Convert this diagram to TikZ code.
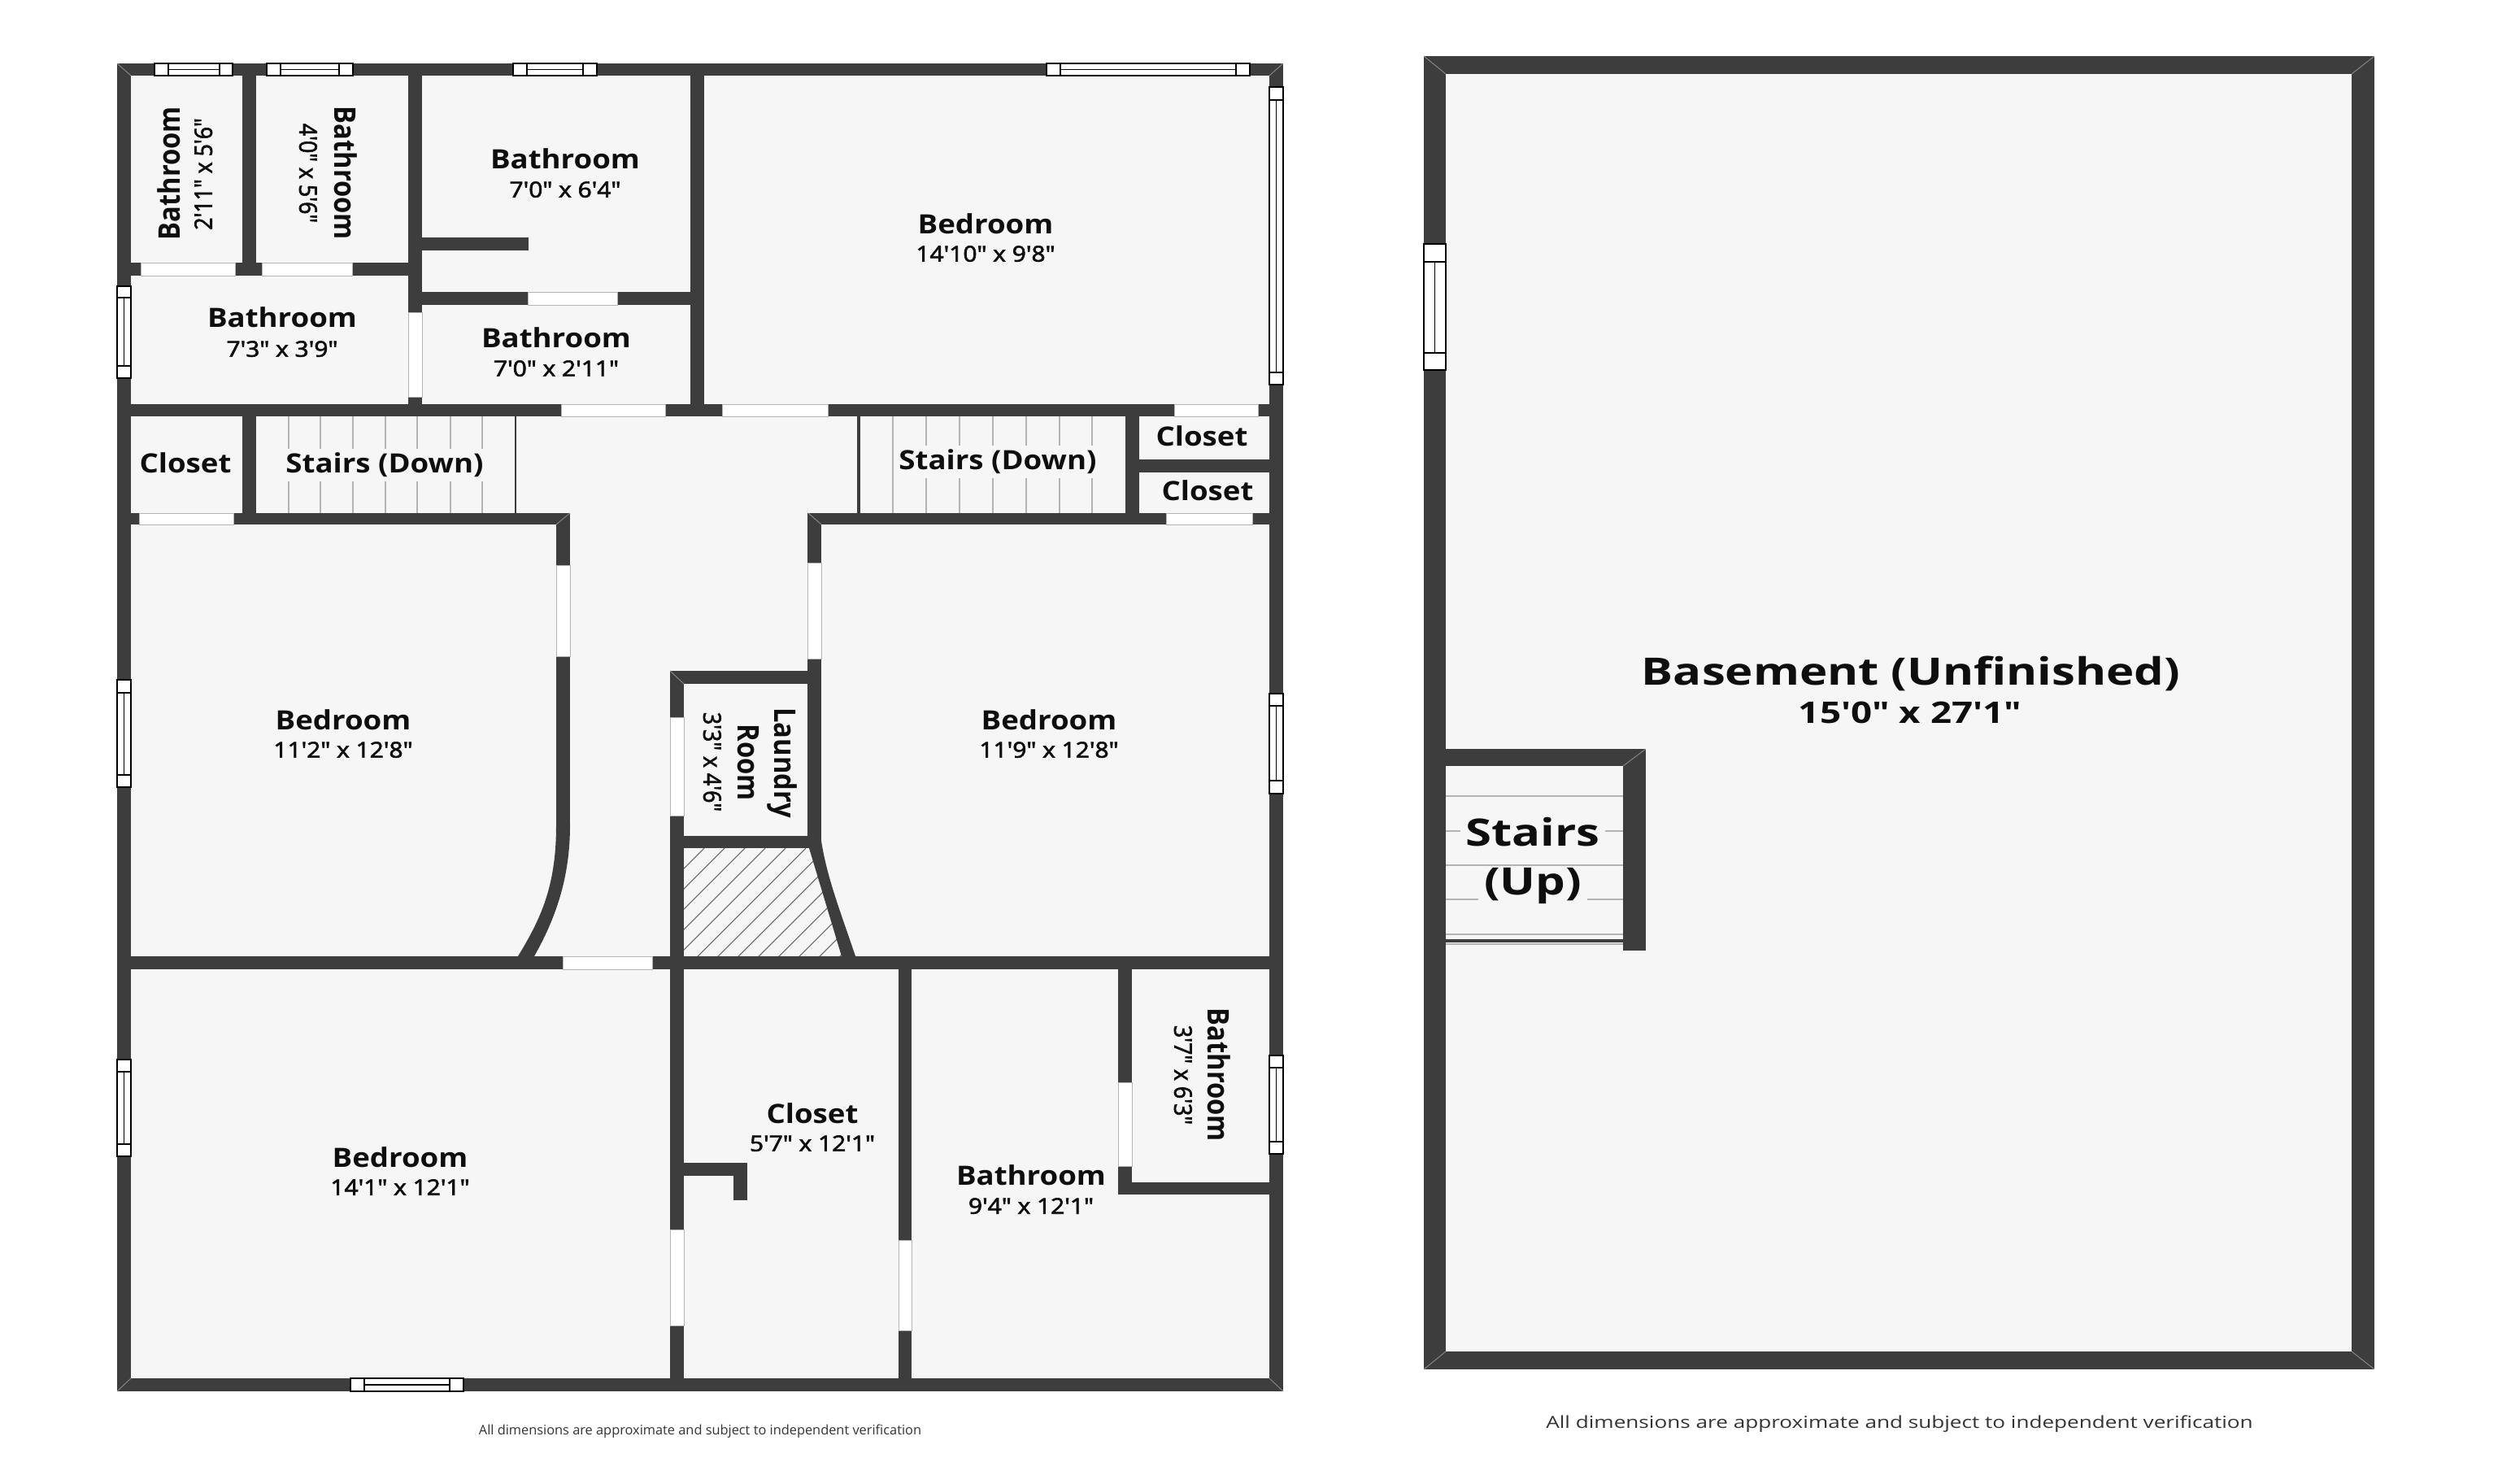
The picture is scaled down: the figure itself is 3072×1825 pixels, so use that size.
\documentclass[tikz,border=0pt]{standalone}
\usepackage{fontspec}
\setmainfont{Open Sans}
\newfontfamily\sizefont[FakeBold=2.4]{Open Sans}
\newfontfamily\bigsizefont{Open Sans}
\definecolor{wallgray}{HTML}{3D3D3D}
\definecolor{floorgray}{HTML}{F6F6F6}
\definecolor{treadgray}{HTML}{B4B4B4}
\definecolor{seamgray}{HTML}{8C8C8C}
\definecolor{inkblack}{HTML}{0E0E0E}
\newcommand{\WinH}[6]{
  \draw[winpane] (#1,#3) rectangle (#2,#4);
  \draw[winpane] (#5,#3) -- (#5,#4) (#6,#3) -- (#6,#4) (#5,{(#3+#4)/2}) -- (#6,{(#3+#4)/2});
}
\newcommand{\WinV}[6]{
  \draw[winpane] (#1,#3) rectangle (#2,#4);
  \draw[winpane] (#1,#5) -- (#2,#5) (#1,#6) -- (#2,#6) ({(#1+#2)/2},#5) -- ({(#1+#2)/2},#6);
}

\begin{document}
\begin{tikzpicture}[x=0.01cm,y=-0.01cm]
  \tikzstyle{wall}=[fill=wallgray]
  \tikzstyle{doorway}=[fill=white,draw=treadgray,line width=0.25pt]
  \tikzstyle{winpane}=[draw=black,fill=white,line width=0.35pt]
  \tikzstyle{tread}=[draw=treadgray,line width=0.55pt]
  \tikzstyle{seam}=[draw=seamgray,line width=0.25pt]
  \tikzstyle{roomname}=[font=\bfseries\fontsize{9.3}{11}\selectfont,text=inkblack,xscale=1.12,inner sep=0pt,
                        text height=.75em,text depth=.2em]
  \tikzstyle{roomsize}=[font=\sizefont\fontsize{7.6}{10}\selectfont,text=inkblack,xscale=1.12,inner sep=0pt,
                        text height=.75em,text depth=.2em]
  \tikzstyle{bigname}=[font=\bfseries\fontsize{13.2}{16}\selectfont,text=inkblack,xscale=1.25,inner sep=1.5pt,
                       text height=.75em,text depth=.2em]
  \tikzstyle{bigsize}=[font=\bigsizefont\bfseries\fontsize{10.4}{13}\selectfont,text=inkblack,xscale=1.25,inner sep=0pt,
                       text height=.75em,text depth=.2em]
  \useasboundingbox (0,0) rectangle (3072,1825);
  % floors
  \fill[floorgray] (144,78) rectangle (1578,1711);
  \fill[floorgray] (1751,69) rectangle (2920,1684);
  % hatched shaft
  \begin{scope}
    \clip (841,1043) -- (998,1043) -- (1036,1176) -- (841,1176) -- cycle;
    \foreach \k in {866,891,...,1266}
      \draw[draw=wallgray!80,line width=0.3pt] (\k,1043) -- ++(-200,200);
  \end{scope}
  % stair treads
  \foreach \k in {355,394,434,474,513,554,593}
    \draw[tread] (\k,512) -- (\k,631);
  \foreach \k in {1098,1139,1180,1221,1262,1303,1343}
    \draw[tread] (\k,512) -- (\k,631);
  \foreach \k in {979,1022,1064,1106,1149}
    \draw[tread,line width=0.7pt] (1778,\k) -- (1996,\k);
  \draw[tread,line width=0.5pt] (1778,1161) -- (1996,1161);
  % upper floor walls
  \foreach \xa/\ya/\xb/\yb in {144/78/1578/93, 144/78/161/1711, 1561/78/1578/1711, 144/1695/1578/1711,
      298/93/315/323, 502/93/519/497, 849/93/866/497, 144/323/519/339, 519/292/650/308, 519/359/849/375,
      144/497/1561/512, 298/512/315/631, 144/631/701/645, 994/631/1561/645, 1384/512/1401/645,
      1401/565/1561/581, 1054/512/1058/631, 633/512/635/631, 684/645/701/1015, 824/825/1010/841,
      993/631/1010/1036, 824/825/841/1695, 841/1028/1010/1043, 144/1176/1578/1192, 1105/1192/1121/1695,
      1375/1192/1392/1469, 1392/1454/1578/1469, 841/1430/919/1446, 902/1446/919/1476}
    \fill[wall] (\xa,\ya) rectangle (\xb,\yb);
  % curved and slanted walls
  \fill[wall] (684,1015) .. controls (684,1090) and (665,1130) .. (637,1176)
    -- (657,1176) .. controls (683,1130) and (701,1080) .. (701,1015) -- cycle;
  \fill[wall] (993,1034) -- (995,1043) -- (1035,1176) -- (1052,1176)
    .. controls (1035,1125) and (1017,1080) .. (1010,1034) -- cycle;
  % basement walls
  \foreach \xa/\ya/\xb/\yb in {1751/69/2920/91, 1751/69/1778/1684, 2892/69/2920/1684, 1751/1662/2920/1684,
      1778/921/2024/942, 1996/921/2024/1169, 1778/1155/1996/1159}
    \fill[wall] (\xa,\ya) rectangle (\xb,\yb);
  % doorways
  \foreach \xa/\ya/\xb/\yb in {173/323/289/339, 322/323/433/339, 649/359/759/375, 502/384/519/488,
      690/497/818/512, 888/497/1018/512, 1444/497/1547/512, 171/631/287/645, 1434/631/1540/645,
      684/695/701/807, 993/692/1010/810, 824/882/841/1003, 692/1176/802/1192, 824/1512/841/1630,
      1105/1525/1121/1636, 1375/1331/1392/1434}
    \draw[doorway] (\xa,\ya) rectangle (\xb,\yb);
  % windows
  \WinH{190}{286}{78}{93}{207}{270}
  \WinH{328}{434}{78}{93}{345}{417}
  \WinH{631}{734}{78}{93}{648}{717}
  \WinH{1287}{1537}{78}{93}{1304}{1520}
  \WinH{431}{570}{1695}{1711}{448}{553}
  \WinV{144}{161}{352}{465}{366}{450}
  \WinV{144}{161}{836}{968}{852}{953}
  \WinV{144}{161}{1303}{1422}{1318}{1407}
  \WinV{1561}{1578}{107}{473}{123}{458}
  \WinV{1561}{1578}{853}{976}{868}{960}
  \WinV{1561}{1578}{1298}{1419}{1313}{1404}
  \WinV{1751}{1778}{300}{455}{322}{434}
  % corner seams
  \draw[seam] (144,78) -- (161,93) (1578,78) -- (1561,93) (144,1711) -- (161,1695) (1578,1711) -- (1561,1695);
  \draw[seam] (1751,69) -- (1778,91) (2920,69) -- (2892,91) (1751,1684) -- (1778,1662) (2920,1684) -- (2892,1662);
  \draw[seam] (824,825) -- (841,841) (701,631) -- (684,645) (994,631) -- (1010,645) (2024,921) -- (1996,942);
  % labels
  \node[roomname,rotate=90] (bathA) at (211,213) {Bathroom};
  \node[roomsize,rotate=90] (bathAsize) at (250,214) {2'11" x 5'6"};
  \node[roomname,rotate=-90] (bathB) at (422,213) {Bathroom};
  \node[roomsize,rotate=-90] (bathBsize) at (379,213) {4'0" x 5'6"};
  \node[roomname] (bathC) at (695,198) {Bathroom};
  \node[roomsize] (bathCsize) at (695,233) {7'0" x 6'4"};
  \node[roomname] (bathD) at (347,393) {Bathroom};
  \node[roomsize] (bathDsize) at (347,429) {7'3" x 3'9"};
  \node[roomname] (bathE) at (684,418) {Bathroom};
  \node[roomsize] (bathEsize) at (684,453) {7'0" x 2'11"};
  \node[roomname] (bedA) at (1212,278) {Bedroom};
  \node[roomsize] (bedAsize) at (1212,312) {14'10" x 9'8"};
  \node[roomname] (closetA) at (228,572) {Closet};
  \node[roomname,fill=floorgray,inner sep=1pt] (stairsA) at (473,572) {Stairs (Down)};
  \node[roomname,fill=floorgray,inner sep=1pt] (stairsB) at (1227,568) {Stairs (Down)};
  \node[roomname] (closetB) at (1478,539) {Closet};
  \node[roomname] (closetC) at (1485,606) {Closet};
  \node[roomname] (bedB) at (422,888) {Bedroom};
  \node[roomsize] (bedBsize) at (422,922) {11'2" x 12'8"};
  \node[roomname] (bedC) at (1290,888) {Bedroom};
  \node[roomsize] (bedCsize) at (1290,922) {11'9" x 12'8"};
  \node[roomname,rotate=-90] (laundryA) at (963,938) {Laundry};
  \node[roomname,rotate=-90] (laundryB) at (918,938) {Room};
  \node[roomsize,rotate=-90] (laundrysize) at (876,937) {3'3" x 4'6"};
  \node[roomname] (bedD) at (492,1426) {Bedroom};
  \node[roomsize] (bedDsize) at (492,1460) {14'1" x 12'1"};
  \node[roomname] (closetD) at (999,1372) {Closet};
  \node[roomsize] (closetDsize) at (999,1406) {5'7" x 12'1"};
  \node[roomname] (bathF) at (1268,1448) {Bathroom};
  \node[roomsize] (bathFsize) at (1268,1483) {9'4" x 12'1"};
  \node[roomname,rotate=-90] (bathG) at (1496,1322) {Bathroom};
  \node[roomsize,rotate=-90] (bathGsize) at (1455,1322) {3'7" x 6'3"};
  \node[bigname] (basement) at (2350,833) {Basement (Unfinished)};
  \node[bigsize] (basementsize) at (2349,880) {15'0" x 27'1"};
  \node[bigname,fill=floorgray] (stairsC) at (1885,1031) {Stairs};
  \node[bigname,fill=floorgray] (stairsD) at (1885,1091) {(Up)};
  \node[font=\fontsize{4.65}{5}\selectfont,text=black!80] (noteA) at (861,1760)
    {All dimensions are approximate and subject to independent verification};
  \node[font=\fontsize{5.85}{6}\selectfont,text=black!80,xscale=1.27] (noteB) at (2336,1751)
    {All dimensions are approximate and subject to independent verification};
\end{tikzpicture}
\end{document}
